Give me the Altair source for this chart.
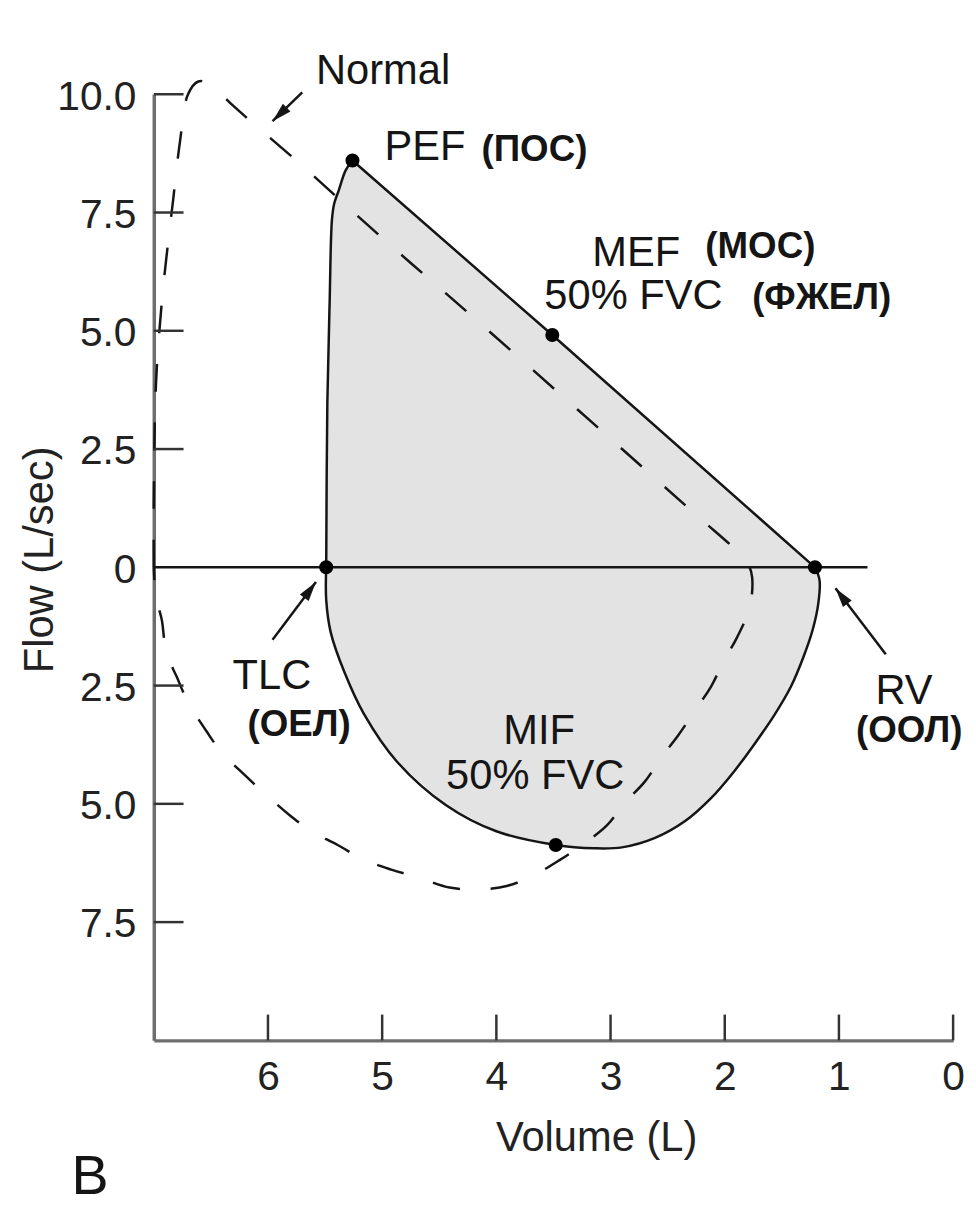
import altair as alt
import pandas as pd

FONT = "Liberation Sans"
INK = "#151515"

# ---------------- data (volume in L, flow in L/sec; expiration positive) ----------------
# patient loop: rise from TLC to PEF
rise_vol = [5.49, 5.48, 5.46, 5.44, 5.42, 5.38, 5.32, 5.26]
rise_flow = [0.00, 3.50, 5.60, 7.34, 7.69, 7.97, 8.39, 8.60]
# patient loop: straight fall PEF -> MEF -> RV
fall_vol = [5.26, 3.51, 1.21]
fall_flow = [8.60, 4.91, 0.00]
# patient loop: inspiration RV -> TLC
insp_vol = [1.21, 1.17, 1.18, 1.23, 1.31, 1.42, 1.57, 1.75, 1.92, 2.12, 2.35, 2.61, 2.90,
            3.14, 3.48, 4.00, 4.44, 4.87, 5.16, 5.33, 5.45, 5.49, 5.49]
insp_flow = [0.00, -0.27, -0.75, -1.32, -1.89, -2.52, -3.14, -3.77, -4.32, -4.88, -5.37,
             -5.72, -5.92, -5.94, -5.87, -5.58, -5.03, -4.11, -3.10, -2.22, -1.38, -0.69, 0.00]

# normal loop (dashed)
norm_vol = [7.00, 7.00, 6.98, 6.93, 6.89, 6.83, 6.77, 6.70, 6.61, 6.50, 6.32, 5.72, 4.98,
            4.20, 2.27, 1.88, 1.79, 1.76, 1.78, 1.89, 2.01, 2.12, 2.27, 2.41, 2.55, 2.70,
            2.88, 3.03, 3.25, 3.44, 3.68, 3.90, 4.16, 4.41, 4.68, 4.92, 5.16, 5.39, 5.63,
            5.81, 6.03, 6.20, 6.41, 6.54, 6.70, 6.80, 6.89, 6.93, 6.98, 7.00]
norm_flow = [0.00, 1.40, 3.92, 5.60, 6.54, 7.78, 9.01, 10.00, 10.27, 10.21, 9.79, 8.53, 6.92,
             5.28, 1.15, 0.31, 0.04, -0.21, -0.84, -1.47, -1.99, -2.52, -3.06, -3.56, -4.00,
             -4.53, -4.99, -5.45, -5.87, -6.18, -6.52, -6.73, -6.81, -6.77, -6.56, -6.39,
             -6.18, -5.87, -5.56, -5.24, -4.78, -4.40, -3.90, -3.46, -2.85, -2.31, -1.80,
             -1.11, -0.63, 0.00]

# marked points
pt_names = ["TLC", "PEF", "MEF", "RV", "MIF"]
pt_vol = [5.49, 5.26, 3.51, 1.21, 3.48]
pt_flow = [0.00, 8.60, 4.91, 0.00, -5.87]

# zero-flow line
zero_from, zero_to = 7.0, 0.75

# axis ticks
x_ticks = [6, 5, 4, 3, 2, 1, 0]
y_ticks = [10, 7.5, 5, 2.5, 0, -2.5, -5, -7.5]
y_inner_ticks = [10, 7.5, 5, 2.5, -2.5, -5, -7.5]

# annotation texts
reg_text = ["Normal", "PEF", "MEF", "50% FVC", "TLC", "RV", "MIF", "50% FVC"]
reg_vol = [5.58, 4.98, 3.16, 3.58, 6.31, 0.68, 3.94, 4.44]
reg_flow = [10.21, 8.60, 6.37, 5.45, -2.58, -2.89, -3.73, -4.68]

bold_text = ["(ПОС)", "(МОС)", "(ФЖЕЛ)", "(ОЕЛ)", "(ООЛ)"]
bold_vol = [4.13, 2.17, 1.76, 6.18, 0.85]
bold_flow = [8.58, 6.54, 5.45, -3.56, -3.69]

panel_text = ["B"]
panel_vol = [7.72]
panel_flow = [-13.25]

# arrows: tail -> tip
arr_name = ["Normal", "TLC", "RV"]
arr_tail_vol = [5.70, 5.96, 0.59]
arr_tail_flow = [10.04, -1.53, -1.84]
arr_tip_vol = [5.96, 5.58, 1.03]
arr_tip_flow = [9.43, -0.31, -0.44]
arr_angle = [226, 36.5, 323]

# ---------------- tables ----------------
def seq(vols, flows, seg):
    return pd.DataFrame({"vol": vols, "flow": flows, "i": range(len(vols)), "seg": seg})

fill_df = seq(rise_vol + fall_vol[1:] + insp_vol[1:], rise_flow + fall_flow[1:] + insp_flow[1:], "fill")
curve_df = pd.concat([seq(rise_vol, rise_flow, "rise"), seq(insp_vol, insp_flow, "insp")])
fall_df = seq(fall_vol, fall_flow, "fall")
norm_df = seq(norm_vol, norm_flow, "normal")
pts_df = pd.DataFrame({"name": pt_names, "vol": pt_vol, "flow": pt_flow})
zero_df = pd.DataFrame({"vol": [zero_from], "v2": [zero_to], "flow": [0.0]})
xt_df = pd.DataFrame({"vol": x_ticks})
yt_df = pd.DataFrame({"flow": y_inner_ticks})
reg_df = pd.DataFrame({"t": reg_text, "vol": reg_vol, "flow": reg_flow})
bold_df = pd.DataFrame({"t": bold_text, "vol": bold_vol, "flow": bold_flow})
panel_df = pd.DataFrame({"t": panel_text, "vol": panel_vol, "flow": panel_flow})
arr_df = pd.DataFrame({"name": arr_name, "vol": arr_tail_vol, "flow": arr_tail_flow,
                       "hv": arr_tip_vol, "hf": arr_tip_flow})
head_df = pd.DataFrame({"vol": arr_tip_vol, "flow": arr_tip_flow, "ang": arr_angle})

# ---------------- scales / axes ----------------
xscale = alt.Scale(domain=[0, 7], reverse=True, nice=False, zero=False)
yscale = alt.Scale(domain=[-10, 10], nice=False, zero=False)

xaxis = alt.Axis(values=x_ticks, format="d", ticks=False, tickSize=0, grid=False,
                 labelFlush=False,
                 domainColor="#6e6e6e", domainWidth=3.5,
                 labelFont=FONT, labelFontSize=41, labelColor="#222222", labelPadding=18,
                 title="Volume (L)", titleFont=FONT, titleFontSize=42, titleFontWeight="normal",
                 titleColor="#222222", titleX=446, titleY=111, titleAlign="center",
                 titleBaseline="alphabetic", titleAnchor="start")
yaxis = alt.Axis(values=y_ticks, ticks=False, tickSize=0, grid=False,
                 labelFlush=False,
                 labelExpr="datum.value == 0 ? '0' : format(abs(datum.value), '.1f')",
                 domainColor="#6e6e6e", domainWidth=3.5,
                 labelFont=FONT, labelFontSize=41, labelColor="#222222", labelPadding=18,
                 labelOffset=3,
                 title="Flow (L/sec)", titleFont=FONT, titleFontSize=42, titleFontWeight="normal",
                 titleColor="#222222", titleX=-102, titleY=469, titleAlign="center",
                 titleBaseline="alphabetic", titleAngle=270, titleAnchor="start")

X = alt.X("vol:Q", scale=xscale, axis=xaxis)
Y = alt.Y("flow:Q", scale=yscale, axis=yaxis)

fill = alt.Chart(fill_df).mark_line(fill="#e3e3e3", strokeWidth=0, interpolate="linear").encode(
    x=X, y=Y, order="i:Q")

zero = alt.Chart(zero_df).mark_rule(color=INK, strokeWidth=2.5).encode(x=X, x2="v2:Q", y=Y)

normal = alt.Chart(norm_df).mark_line(color=INK, strokeWidth=2.5, strokeDash=[28, 31],
                                      interpolate="catmull-rom").encode(x=X, y=Y, order="i:Q")

curves = alt.Chart(curve_df).mark_line(color=INK, strokeWidth=2.5, interpolate="catmull-rom").encode(
    x=X, y=Y, order="i:Q", detail="seg:N")
fall = alt.Chart(fall_df).mark_line(color=INK, strokeWidth=2.5).encode(x=X, y=Y, order="i:Q")

dots = alt.Chart(pts_df).mark_circle(color="#000000", size=200, opacity=1).encode(x=X, y=Y)

yticks = alt.Chart(yt_df).mark_rule(color="#333333", strokeWidth=2.5).encode(
    y=Y, x=alt.value(0), x2=alt.value(30))
xticks = alt.Chart(xt_df).mark_rule(color="#333333", strokeWidth=2.5).encode(
    x=X, y=alt.value(954), y2=alt.value(928))

shafts = alt.Chart(arr_df).mark_rule(color=INK, strokeWidth=2.5).encode(
    x=X, y=Y, x2="hv:Q", y2="hf:Q")
heads = alt.Chart(head_df).mark_point(shape="M0,0L1,3.6L-1,3.6Z", filled=True, size=121,
                                      color=INK, opacity=1, strokeWidth=0).encode(
    x=X, y=Y, angle=alt.Angle("ang:Q", scale=None))

reg = alt.Chart(reg_df).mark_text(font=FONT, fontSize=42, align="left", baseline="alphabetic",
                                  color=INK).encode(x=X, y=Y, text="t:N")
bold = alt.Chart(bold_df).mark_text(font=FONT, fontSize=37, fontWeight="bold", align="left",
                                    baseline="alphabetic", color=INK).encode(x=X, y=Y, text="t:N")
panel = alt.Chart(panel_df).mark_text(font=FONT, fontSize=56, align="left", baseline="alphabetic",
                                      color=INK).encode(x=X, y=Y, text="t:N")

chart = alt.layer(fill, zero, normal, curves, fall, yticks, xticks, shafts, heads, dots,
                  reg, bold, panel).properties(
    width=806, height=954,
    padding={"left": 147, "top": 82, "right": 15, "bottom": 158},
    autosize=alt.AutoSizeParams(type="none"),
    background="white",
).configure_view(stroke=None)

chart.save("out.html", embed_options={"renderer": "svg", "actions": False})
